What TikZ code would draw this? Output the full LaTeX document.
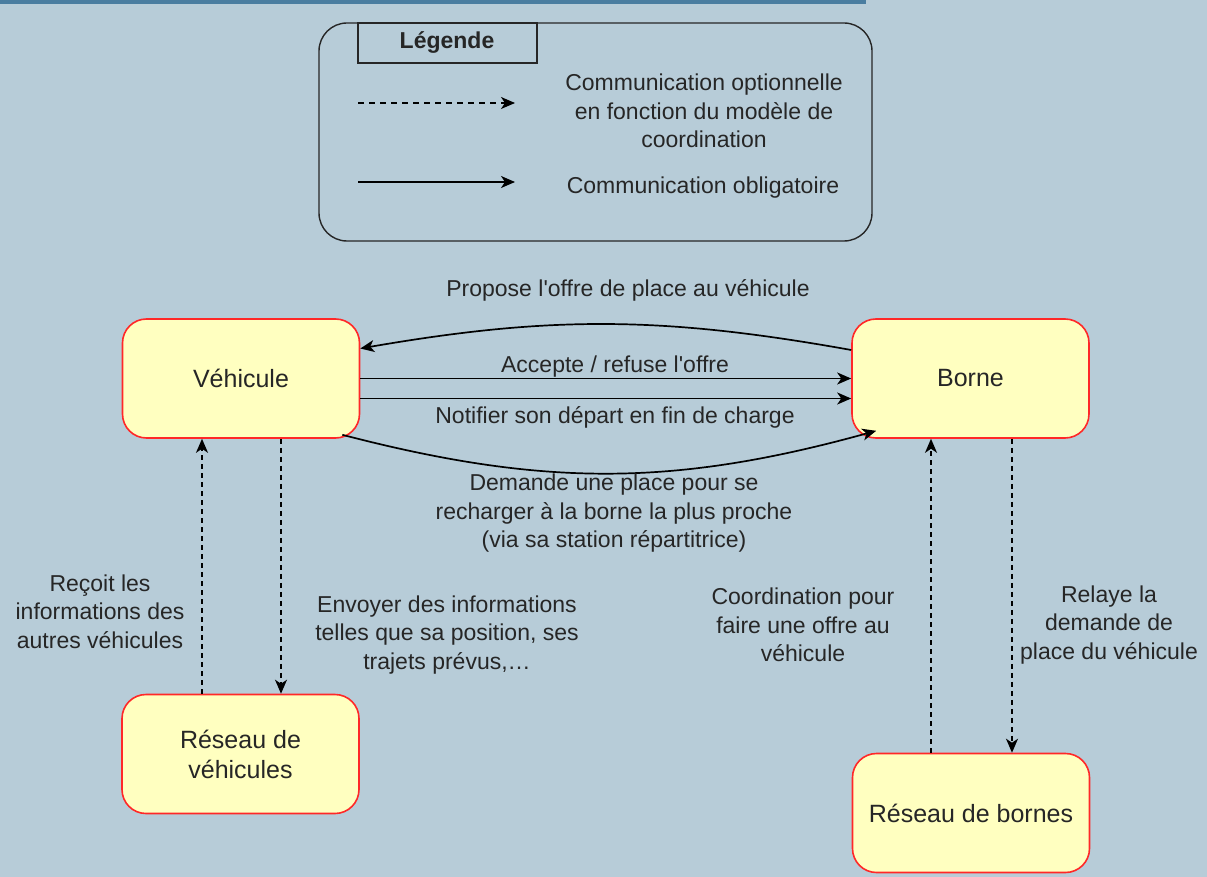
\documentclass[tikz,border=0pt]{standalone}
\usepackage{fontspec}
\setmainfont{Liberation Sans}
\usetikzlibrary{arrows.meta}
\usetikzlibrary{positioning,calc}
\definecolor{fond}{RGB}{183,204,216}
\definecolor{bandeau}{RGB}{74,125,160}
\definecolor{jaune}{RGB}{255,255,192}
\definecolor{bord}{RGB}{255,40,40}
\definecolor{texte}{RGB}{38,38,38}
\tikzset{
	boite/.style={draw=bord, fill=jaune, line width=1.6pt, rounded corners=24pt,
		minimum width=237pt, minimum height=119pt, align=center, text=texte,
		font=\fontsize{25}{30}\selectfont},
	etiquette/.style={align=center, text=texte, inner sep=0pt,
		font=\fontsize{23}{28.5}\selectfont},
	oblig/.style={line width=1.7pt, -{Stealth[length=14pt,width=12pt,inset=4pt]}},
	optionnel/.style={oblig, line width=1.4pt, dash pattern=on 5pt off 4pt},
}

\begin{document}
\begin{tikzpicture}[x=1pt,y=-1pt]
		\useasboundingbox (0,0) rectangle (1207,877);
		\fill[fond] (0,0) rectangle (1207,877);
		\fill[bandeau] (0,0) rectangle (866,4);
		% legende
		\draw[line width=1.4pt, draw=texte, rounded corners=28pt] (319,23) rectangle (872,241);
		\draw[line width=1.2pt, draw=texte] (358,23) rectangle (537,63);
		\node[etiquette, font=\fontsize{23}{28}\selectfont\bfseries] (legende) at (447,43) {Légende};
		\coordinate (optA) at (358,103);
		\coordinate (optB) at (515,103);
		\coordinate (obA) at (358,182);
		\coordinate (obB) at (515,182);
		\draw[optionnel, dash pattern=on 6pt off 5pt] (optA) -- (optB);
		\draw[oblig] (obA) -- (obB);
		\node[etiquette] (legopt) at (704,111) {Communication optionnelle\\en fonction du modèle de\\coordination};
		\node[etiquette] (legob) at (703,188) {Communication obligatoire};
		% boites
		\node[boite] (vehicule) at (241,378.5) {Véhicule};
		\node[boite] (borne) at (970.5,378.5) {Borne};
		\node[boite] (reseauV) at (240.5,754) {Réseau de\\véhicules};
		\node[boite] (reseauB) at (971,813) {Réseau de bornes};
		% echanges vehicule / borne
		\draw[oblig] ([yshift=28.5pt]borne.west) to[bend right=10] ([yshift=30pt]vehicule.east);
		\node[etiquette] (propose) at (628,290) {Propose l\textquotesingle offre de place au véhicule};
		\draw[oblig] (vehicule.east) -- (borne.west);
		\node[etiquette] (accepte) at (615,367) {Accepte / refuse l\textquotesingle offre};
		\draw[oblig] ([yshift=-20pt]vehicule.east) -- ([yshift=-20pt]borne.west);
		\node[etiquette] (notifier) at (615,417) {Notifier son départ en fin de charge};
		\draw[oblig] ([xshift=-18pt,yshift=4pt]vehicule.south east) to[bend right=15] ([xshift=25pt,yshift=8pt]borne.south west);
		\node[etiquette] (demande) at (614,513.5) {Demande une place pour se\\recharger à la borne la plus proche\\(via sa station répartitrice)};
		% reseaux
		\draw[optionnel] ([xshift=-38.5pt]reseauV.north) -- ([xshift=-39pt]vehicule.south);
		\node[etiquette] (recoit) at (100,611.5) {Reçoit les\\informations des\\autres véhicules};
		\draw[optionnel] ([xshift=40pt]vehicule.south) -- ([xshift=40.5pt]reseauV.north);
		\node[etiquette] (envoyer) at (447,635) {Envoyer des informations\\telles que sa position, ses\\trajets prévus,…};
		\draw[optionnel] ([xshift=-40pt]reseauB.north) -- ([xshift=-39.5pt]borne.south);
		\node[etiquette] (coordination) at (803,625) {Coordination pour\\faire une offre au\\véhicule};
		\draw[optionnel] ([xshift=41.5pt]borne.south) -- ([xshift=41pt]reseauB.north);
		\node[etiquette] (relaye) at (1109,625) {Relaye la\\demande de\\place du véhicule};
	\end{tikzpicture}
\end{document}
